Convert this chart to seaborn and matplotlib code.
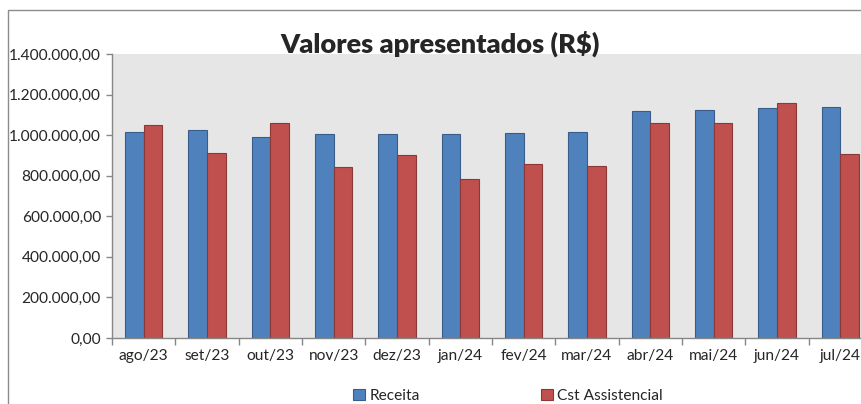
import numpy as np
import pandas as pd
import matplotlib
matplotlib.use("Agg")
import matplotlib.pyplot as plt
import seaborn as sns
from matplotlib.ticker import FuncFormatter, FixedLocator
from matplotlib.patches import Rectangle, Patch

meses = ["ago/23", "set/23", "out/23", "nov/23", "dez/23", "jan/24",
         "fev/24", "mar/24", "abr/24", "mai/24", "jun/24", "jul/24"]
receita = [1017000, 1025000, 991000, 1005000, 1005000, 1005000,
           1012000, 1017000, 1117000, 1122000, 1132000, 1139000]
cst_assistencial = [1050000, 912000, 1061000, 845000, 900000, 784000,
                    856000, 848000, 1061000, 1058000, 1157000, 908000]
series = ["Receita", "Cst Assistencial"]
cores = {"Receita": "#4f81bd", "Cst Assistencial": "#c0504d"}
bordas = {"Receita": "#385d8a", "Cst Assistencial": "#8c3836"}

df = pd.DataFrame({"mes": meses * 2,
                   "valor": receita + cst_assistencial,
                   "serie": [series[0]] * 12 + [series[1]] * 12})

sns.set_style("white")
plt.rcParams["font.family"] = ["Lato", "DejaVu Sans"]

fig = plt.figure(figsize=(8.61, 4.04), dpi=100)
ax = fig.add_axes([112 / 861, 66 / 404, 760 / 861, 284 / 404])
ax.set_facecolor("#e6e6e6")

sns.barplot(data=df, x="mes", y="valor", hue="serie", palette=cores,
            width=0.585, gap=0, ax=ax, legend=False, saturation=1)

# bordas das barras
for cont, s in zip(ax.containers, series):
    for b in cont:
        b.set_edgecolor(bordas[s])
        b.set_linewidth(0.8)

ax.set_ylim(0, 1400000)
ax.set_xlim(-0.5, 11.5)
ax.set_xlabel("")
ax.set_ylabel("")

def fmt_br(v, pos):
    s = f"{v:,.2f}"
    return s.replace(",", "X").replace(".", ",").replace("X", ".")

ax.yaxis.set_major_formatter(FuncFormatter(fmt_br))
ax.set_yticks(np.arange(0, 1400001, 200000))
ax.xaxis.set_minor_locator(FixedLocator(np.arange(-0.5, 12, 1)))

for s in ["top", "right"]:
    ax.spines[s].set_visible(False)
for s in ["left", "bottom"]:
    ax.spines[s].set_color("#868686")
    ax.spines[s].set_linewidth(1)

ax.tick_params(axis="y", which="major", direction="out", length=4, width=1,
               color="#868686", labelsize=11.2, pad=4, left=True)
ax.tick_params(axis="x", which="major", length=0, labelsize=11.2, pad=8)
ax.tick_params(axis="x", which="minor", direction="out", length=5, width=1,
               color="#868686", bottom=True)

fig.text(440 / 861, 1 - 44 / 404, "Valores apresentados (R$)", ha="center",
         va="center", fontsize=19.5, fontweight="heavy")

handles = [Patch(facecolor=cores[s], edgecolor=bordas[s], linewidth=0.8) for s in series]
fig.legend(handles, series, loc="center", bbox_to_anchor=(508 / 861, 1 - 396 / 404),
           ncol=2, frameon=False, fontsize=11.2, handlelength=0.75, handleheight=0.75,
           handletextpad=0.3, columnspacing=7.8, borderaxespad=0)

fig.patches.append(Rectangle((8 / 861, -0.1), 1.2, 1 - 10 / 404 + 0.1,
                             transform=fig.transFigure, fill=False,
                             edgecolor="#8c8c8c", linewidth=1))

fig.savefig("out.png", dpi=100)
